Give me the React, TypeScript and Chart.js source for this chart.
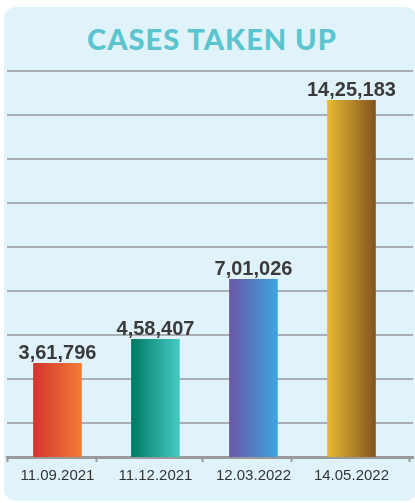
import { useEffect, useRef } from "react";
import { Chart, registerables } from "chart.js";

Chart.register(...registerables);

// ---- data ----
const categories = ["11.09.2021", "11.12.2021", "12.03.2022", "14.05.2022"];
const casesTaken = [361796, 458407, 701026, 1425183];
const barGradients = [
  ["#d5342f", "#f27c36"],
  ["#007962", "#46cbc4"],
  ["#6a58a6", "#3fa4e1"],
  ["#e6ba32", "#84541f"],
];
// y grid (decorative guide lines) values
const GRID_START = 122000;
const GRID_STEP = 177750;
const GRID_COUNT = 9;
const Y_MIN = -17000;
const Y_MAX = 1544000;
// x axis tick marks (between categories)
const xTickMarks = [-0.515, 0.403, 1.485, 2.393, 3.597];
const X_MIN = -0.515;
const X_MAX = 3.628;

const BAR_W = 48;
const FONT = "'Liberation Sans', Arial, Helvetica, sans-serif";
const fmt = new Intl.NumberFormat("en-IN");

export default function App() {
  const ref = useRef<HTMLCanvasElement | null>(null);

  useEffect(() => {
    if (!ref.current) return;
    Chart.defaults.font.family = FONT;
    Chart.defaults.font.size = 15;
    const gridValues = Array.from({ length: GRID_COUNT }, (_, i) => GRID_START + i * GRID_STEP);

    const valueLabelPlugin = {
      id: "valueLabels",
      afterDatasetsDraw(chart: any) {
        const meta = chart.getDatasetMeta(0);
        const c = chart.ctx;
        c.save();
        c.font = `bold 20px ${FONT}`;
        c.fillStyle = "#3a3a3a";
        c.textAlign = "center";
        c.textBaseline = "alphabetic";
        meta.data.forEach((bar: any, i: number) => {
          c.fillText(fmt.format(casesTaken[i]), bar.x, bar.y - 4);
        });
        c.restore();
      },
    };

    const chart = new Chart(ref.current, {
      type: "bar",
      data: {
        datasets: [
          {
            data: casesTaken.map((v, i) => ({ x: i, y: v })),
            base: Y_MIN,
            barThickness: BAR_W,
            backgroundColor: (ctx: any) => {
              const { chart: ch, dataIndex } = ctx;
              const stops = barGradients[dataIndex ?? 0] || barGradients[0];
              if (!ch.chartArea || dataIndex === undefined) return stops[0];
              const cx = ch.scales.x.getPixelForValue(dataIndex);
              const g = ch.ctx.createLinearGradient(cx - BAR_W / 2, 0, cx + BAR_W / 2, 0);
              g.addColorStop(0, stops[0]);
              g.addColorStop(1, stops[1]);
              return g;
            },
            borderWidth: 0,
          } as any,
        ],
      },
      options: {
        animation: false,
        responsive: false,
        devicePixelRatio: 1,
        layout: { padding: { top: 71, left: 7, right: 2, bottom: 13 } },
        plugins: { legend: { display: false }, tooltip: { enabled: false }, title: { display: false } },
        scales: {
          x: {
            type: "linear",
            offset: false,
            min: X_MIN,
            max: X_MAX,
            afterBuildTicks: (scale: any) => {
              const vals = [...xTickMarks, ...categories.map((_, i) => i)].sort((a, b) => a - b);
              scale.ticks = vals.map((value) => ({ value }));
            },
            ticks: {
              autoSkip: false,
              maxRotation: 0,
              minRotation: 0,
              padding: 5,
              color: "#333333",
              font: { family: FONT, size: 15, weight: "normal" },
              callback: (value: any) => {
                const v = Number(value);
                return Number.isInteger(v) && categories[v] ? categories[v] : "";
              },
            },
            grid: {
              offset: false,
              drawOnChartArea: false,
              tickLength: 5,
              tickWidth: 2,
              tickColor: (ctx: any) =>
                ctx.tick && Number.isInteger(ctx.tick.value) ? "rgba(0,0,0,0)" : "#9a9a9a",
            },
            border: { display: true, color: "#9a9a9a", width: 3 },
          } as any,
          y: {
            type: "linear",
            min: Y_MIN,
            max: Y_MAX,
            afterBuildTicks: (scale: any) => {
              scale.ticks = gridValues.map((value) => ({ value }));
            },
            ticks: { display: false },
            grid: { color: "#aaadb1", lineWidth: 2, drawTicks: false },
            border: { display: false },
          } as any,
        },
      },
      plugins: [valueLabelPlugin],
    } as any);
    return () => chart.destroy();
  }, []);

  return (
    <div style={{ position: "absolute", left: 0, top: 0, width: 415, height: 503, background: "#ffffff", overflow: "hidden" }}>
      <div
        style={{
          position: "absolute",
          left: 4,
          top: 7,
          width: 413,
          height: 494,
          borderRadius: 12,
          background: "#e1f3fa",
        }}
      />
      <div
        style={{
          position: "absolute",
          left: 0,
          top: 24,
          width: 424,
          textAlign: "center",
          fontFamily: "Lato, 'Open Sans', sans-serif",
          fontWeight: 900,
          fontSize: 29,
          lineHeight: "29px",
          letterSpacing: 1,
          color: "#5bc5cf",
          whiteSpace: "nowrap",
        }}
      >
        CASES TAKEN UP
      </div>
      <canvas ref={ref} width={415} height={503} style={{ position: "absolute", left: 0, top: 0, width: 415, height: 503 }} />
    </div>
  );
}
